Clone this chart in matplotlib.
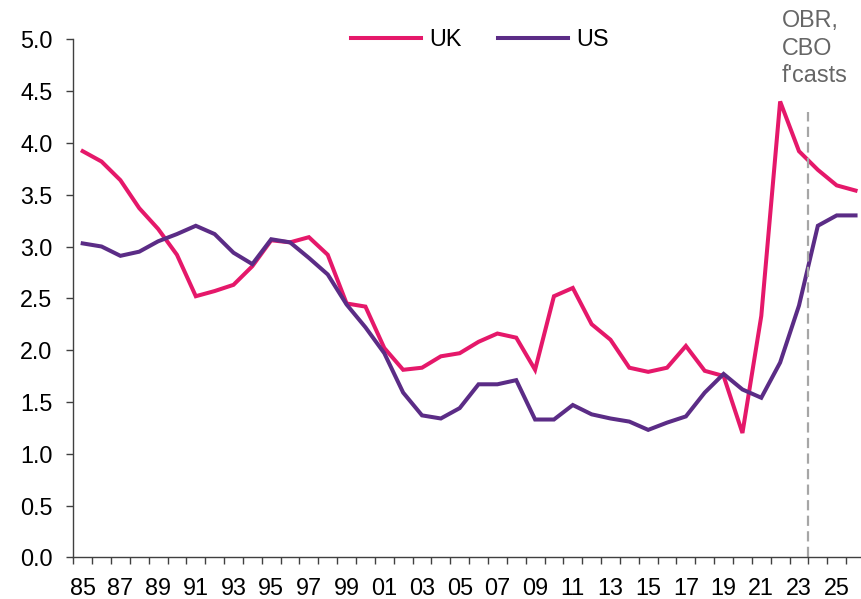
#!/usr/bin/env python3

import matplotlib
matplotlib.use("Agg")
import matplotlib.pyplot as plt

years = list(range(1985, 2027))
uk = [3.92, 3.82, 3.64, 3.37, 3.17, 2.92, 2.52, 2.57, 2.63, 2.81,
      3.06, 3.04, 3.09, 2.92, 2.45, 2.42, 2.02, 1.81, 1.83, 1.94,
      1.97, 2.08, 2.16, 2.12, 1.81, 2.52, 2.60, 2.25, 2.10, 1.83,
      1.79, 1.83, 2.04, 1.80, 1.75, 1.20, 2.33, 4.40, 3.92, 3.74,
      3.59, 3.54]
us = [3.03, 3.00, 2.91, 2.95, 3.05, 3.12, 3.20, 3.12, 2.94, 2.83,
      3.07, 3.04, 2.89, 2.73, 2.44, 2.22, 1.97, 1.59, 1.37, 1.34,
      1.44, 1.67, 1.67, 1.71, 1.33, 1.33, 1.47, 1.38, 1.34, 1.31,
      1.23, 1.30, 1.36, 1.59, 1.77, 1.62, 1.54, 1.88, 2.43, 3.20,
      3.30, 3.30]
label_years = list(range(1985, 2027, 2))
tick_labels = ["%02d" % (y % 100) for y in label_years]
forecast_start = 2023.5
forecast_top = 4.30

FS = 16.8


def main():
    plt.rcParams['font.family'] = ['Liberation Sans', 'DejaVu Sans']
    fig = plt.figure(figsize=(8.61, 5.99), dpi=100)
    ax = fig.add_axes([0.0851, 0.0696, 0.9195, 0.8648])

    ax.plot(years, uk, color='#E5186A', lw=2.9, label='UK',
            solid_joinstyle='miter')
    ax.plot(years, us, color='#5B2C86', lw=2.9, label='US',
            solid_joinstyle='miter')

    ax.plot([forecast_start, forecast_start], [0, forecast_top],
            color='#A6A6A6', lw=1.6, linestyle=(0, (4.6, 2.4)))
    ax.text(2022.1, 5.29, "OBR,\nCBO\nf'casts", color='#666666',
            fontsize=FS, ha='left', va='top', linespacing=1.25,
            clip_on=False)

    format_plot(ax)
    fig.savefig('out.png', dpi=100)


def format_plot(ax):
    ax.set_xlim(1984.5, 2026.5)
    ax.set_ylim(0, 5)
    ax.set_yticks([i * 0.5 for i in range(11)])
    ax.set_yticklabels(["%.1f" % (i * 0.5) for i in range(11)])

    ax.set_xticks([y - 0.5 for y in years] + [2026.5])
    ax.set_xticklabels([])
    ax.set_xticks(label_years, minor=True)
    ax.set_xticklabels(tick_labels, minor=True)
    ax.tick_params(axis='x', which='major', length=5, width=1,
                   direction='out', color='#404040')
    ax.tick_params(axis='x', which='minor', length=0, pad=14,
                   labelsize=FS)
    ax.tick_params(axis='y', length=5, width=1, direction='out',
                   pad=10, labelsize=FS, color='#404040')

    for side in ['top', 'right']:
        ax.spines[side].set_visible(False)
    for side in ['left', 'bottom']:
        ax.spines[side].set_color('#404040')
        ax.spines[side].set_linewidth(1)

    ax.legend(loc='center', bbox_to_anchor=(0.514, 1.0), ncol=2,
              frameon=False, fontsize=FS, handlelength=3.0,
              handletextpad=0.35, columnspacing=1.55, borderaxespad=0)


if __name__ == "__main__":
    main()
